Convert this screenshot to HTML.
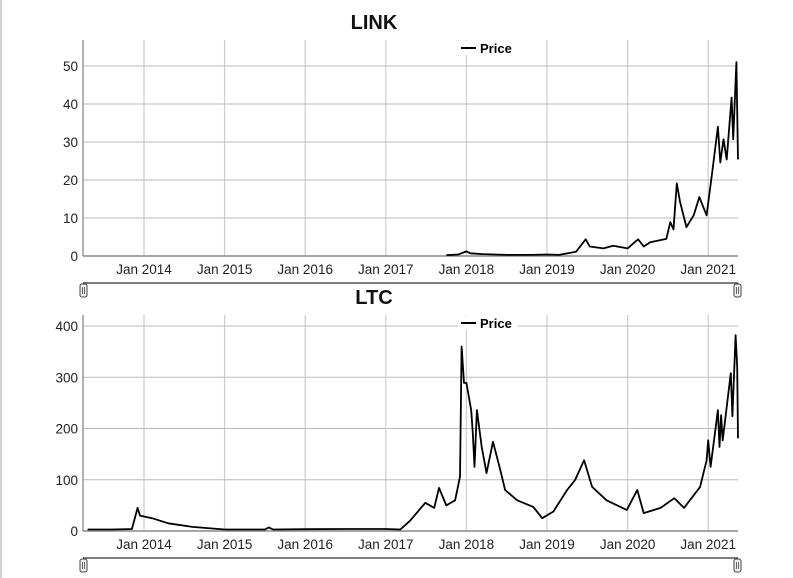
<!DOCTYPE html>
<html><head><meta charset="utf-8"><style>
html,body{margin:0;padding:0;background:#fff;}
svg{display:block;font-family:"Liberation Sans",Arial,sans-serif;}
</style></head><body>
<svg id="c" width="793" height="578" viewBox="0 0 793 578">
<line x1="1" y1="0" x2="1" y2="578" stroke="#aaa"/>
</svg>
<script>
const xTickYears = [2014,2015,2016,2017,2018,2019,2020,2021];
const linkDates = [2017.75,2017.9,2018.0,2018.05,2018.2,2018.5,2018.8,2019.0,2019.15,2019.36,2019.48,2019.53,2019.7,2019.82,2020.0,2020.13,2020.2,2020.28,2020.48,2020.53,2020.57,2020.61,2020.65,2020.73,2020.82,2020.89,2020.98,2021.05,2021.12,2021.15,2021.19,2021.23,2021.29,2021.31,2021.35,2021.37];
const linkPrices = [0.2,0.4,1.2,0.7,0.5,0.3,0.3,0.4,0.3,1.1,4.4,2.5,2.0,2.7,2.0,4.4,2.5,3.6,4.5,8.9,7,19.1,14.3,7.6,10.7,15.5,10.7,22,34,24.6,30.7,25.4,41.7,30.7,51,25.4];
const linkYTicks = [0,10,20,30,40,50];
const ltcDates = [2013.3,2013.6,2013.85,2013.92,2013.95,2014.1,2014.3,2014.6,2015.0,2015.5,2015.55,2015.6,2016.0,2016.5,2017.0,2017.18,2017.3,2017.49,2017.6,2017.66,2017.75,2017.86,2017.92,2017.94,2017.97,2018.0,2018.06,2018.08,2018.1,2018.13,2018.19,2018.25,2018.33,2018.42,2018.48,2018.63,2018.83,2018.94,2019.08,2019.25,2019.35,2019.46,2019.56,2019.74,2019.99,2020.12,2020.2,2020.41,2020.58,2020.7,2020.9,2020.98,2021.0,2021.03,2021.12,2021.14,2021.16,2021.18,2021.28,2021.3,2021.34,2021.36,2021.37];
const ltcPrices = [3,3,4,45,30,25,15,8,3,3,7,3,3.5,4,4,3,20,55,45,84,50,60,106,360,289,289,236,191,125,236,164,113,174,119,80,60,47,25,38,80,100,138,86,60,41,80,35,45,64,45,86,138,177,125,236,164,226,177,308,224,382,320,181];
const ltcYTicks = [0,100,200,300,400];

const svg = document.getElementById('c');
const NS = 'http://www.w3.org/2000/svg';
function mk(tag, attrs, parent){const e=document.createElementNS(NS,tag);for(const k in attrs)e.setAttribute(k,attrs[k]);(parent||svg).appendChild(e);return e;}
const xL = 83, xR = 738;
function xs(yr){return 144 + (yr-2014)*80.6;}

function panel(p){
  const g = mk('g',{});
  
  
  const ys = v => p.base - v*p.k;
  const t = mk('text',{x:374,y:p.top-11,'text-anchor':'middle','font-size':'20','font-weight':'bold',fill:'#111'},g);
  t.textContent = p.title;
  
  
  xTickYears.forEach(y=>{
    const l = mk('line',{x1:xs(y),x2:xs(y),y1:p.top,y2:p.base,stroke:'#d0d0d0','stroke-width':1.3},g);
    
    
    const tx = mk('text',{x:xs(y),y:p.base+18,'text-anchor':'middle','font-size':'13.5',fill:'#222'},g);
    tx.textContent = 'Jan '+y;
    
    
  });
  p.ticks.forEach(v=>{
    const l = mk('line',{x1:xL,x2:xR,y1:ys(v),y2:ys(v),stroke:'#bbb','stroke-width':1},g);
    
    
    const tx = mk('text',{x:78,y:ys(v)+5,'text-anchor':'end','font-size':'13.5',fill:'#222'},g);
    tx.textContent = v;
    
    
  });
  const ya = mk('line',{x1:xL,x2:xL,y1:p.top,y2:p.base,stroke:'#888','stroke-width':1.3},g);
  
  
  const xa = mk('line',{x1:xL,x2:xR,y1:p.base,y2:p.base,stroke:'#888','stroke-width':1.5},g);
  
  
  const pts = p.dates.map((d,i)=>xs(d).toFixed(1)+','+ys(p.vals[i]).toFixed(1)).join(' ');
  const pl = mk('polyline',{points:pts,fill:'none',stroke:'#000','stroke-width':1.8,'stroke-linejoin':'round'},g);
  
  
  const lg = mk('g',{},g);
  
  
  mk('rect',{x:458,y:p.top+1,width:60,height:14,fill:'#fff'},lg);
  mk('line',{x1:461,x2:476,y1:p.top+8,y2:p.top+8,stroke:'#000','stroke-width':2},lg);
  const lt = mk('text',{x:480,y:p.top+13,'font-size':'13','font-weight':'bold',fill:'#000'},lg);
  lt.textContent = 'Price';
  const sl = mk('g',{},g);
  
  
  mk('line',{x1:xL,x2:xR,y1:p.slider,y2:p.slider,stroke:'#333','stroke-width':1.2},sl);
  [xL-3, xR-4].forEach(hx=>{
    const h = mk('rect',{x:hx,y:p.slider+1,width:7,height:13,rx:2,fill:'#eee',stroke:'#444','stroke-width':1},sl);
    
    
    mk('line',{x1:hx+2.5,x2:hx+2.5,y1:p.slider+4,y2:p.slider+11,stroke:'#666'},sl);
    mk('line',{x1:hx+4.5,x2:hx+4.5,y1:p.slider+4,y2:p.slider+11,stroke:'#666'},sl);
  });
}
panel({name:'link',title:'LINK',top:40,base:256,k:3.8,ticks:linkYTicks,dates:linkDates,vals:linkPrices,slider:283});
panel({name:'ltc',title:'LTC',top:315,base:531,k:0.5125,ticks:ltcYTicks,dates:ltcDates,vals:ltcPrices,slider:558});
</script>
</body></html>
